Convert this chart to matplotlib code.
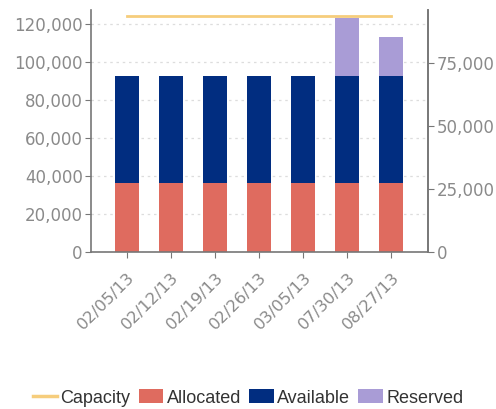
import matplotlib
matplotlib.use("Agg")
import matplotlib.pyplot as plt
from matplotlib.lines import Line2D
from matplotlib.patches import Patch
import numpy as np

dates = ["02/05/13", "02/12/13", "02/19/13", "02/26/13", "03/05/13", "07/30/13", "08/27/13"]
allocated = [36500, 36500, 36500, 36500, 36500, 36500, 36500]
available = [56300, 56300, 56300, 56300, 56300, 56300, 56300]
reserved = [0, 0, 0, 0, 0, 30400, 20400]
capacity = [93500, 93500, 93500, 93500, 93500, 93500, 93500]

c_alloc = "#DF6B5F"
c_avail = "#012D80"
c_res = "#A99CD6"
c_cap = "#F6CD7C"
c_axis = "#777777"
c_tick = "#8A8A8A"

fig = plt.figure(figsize=(4.96, 4.09), dpi=100)
ax = fig.add_axes([0.1835, 0.384, 0.680, 0.592])
x = np.arange(len(dates))
w = 0.55
ax.bar(x, allocated, w, color=c_alloc, zorder=2)
ax.bar(x, available, w, bottom=allocated, color=c_avail, zorder=2)
bot2 = [a + b for a, b in zip(allocated, available)]
ax.bar(x, reserved, w, bottom=bot2, color=c_res, zorder=2)

ax.set_xlim(-0.82, 6.84)
ax.set_ylim(0, 127500)
ax.set_yticks(np.arange(0, 120001, 20000))
ax.set_yticklabels([f"{v:,}" for v in range(0, 120001, 20000)])
ax.yaxis.grid(True, linestyle=(0, (2, 3)), color="#DDDDDD", linewidth=0.9, zorder=0)
ax.set_xticks(x)
ax.set_xticklabels(dates, rotation=45, ha="right", va="top", rotation_mode="anchor")

for s in ["top"]:
    ax.spines[s].set_visible(False)
for s in ["left", "bottom", "right"]:
    ax.spines[s].set_color(c_axis)
    ax.spines[s].set_linewidth(1.2)
ax.tick_params(axis="y", colors=c_axis, labelcolor=c_tick, labelsize=12, length=4, pad=2)
ax.tick_params(axis="x", colors=c_axis, labelcolor=c_tick, labelsize=11.8, length=4, pad=9)

ax2 = ax.twinx()
ax2.set_ylim(0, 96000)
ax2.set_yticks([0, 25000, 50000, 75000])
ax2.set_yticklabels([f"{v:,}" for v in [0, 25000, 50000, 75000]])
ax2.plot(x, capacity, color=c_cap, linewidth=2, zorder=3)
for s in ["top", "left", "bottom"]:
    ax2.spines[s].set_visible(False)
ax2.spines["right"].set_color(c_axis)
ax2.spines["right"].set_linewidth(1.2)
ax2.tick_params(axis="y", colors=c_axis, labelcolor=c_tick, labelsize=12, length=4, pad=2)

handles = [
    Line2D([0], [0], color=c_cap, linewidth=2.5),
    Patch(facecolor=c_alloc),
    Patch(facecolor=c_avail),
    Patch(facecolor=c_res),
]
labels = ["Capacity", "Allocated", "Available", "Reserved"]
leg = fig.legend(handles, labels, loc="center", bbox_to_anchor=(0.50, 0.027), ncol=4,
                 frameon=False, handlelength=1.35, handleheight=0.8,
                 handletextpad=0.2, columnspacing=0.45,
                 prop={"family": "Liberation Sans", "size": 13})
for t in leg.get_texts():
    t.set_color("#333333")

fig.savefig("out.png", dpi=100)
